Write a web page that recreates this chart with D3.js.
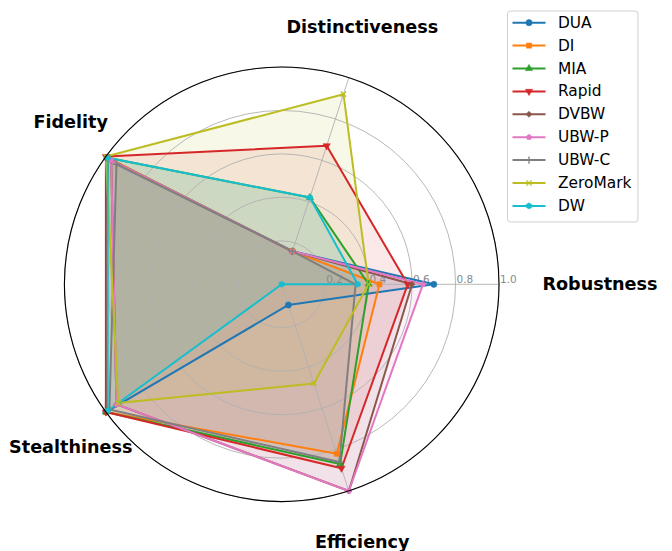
<!DOCTYPE html>
<html>
<head>
<meta charset="utf-8">
<script src="https://cdn.jsdelivr.net/npm/d3@7"></script>
<style>
  body { margin: 0; background: #fff; }
  svg { display: block; font-family: "DejaVu Sans", sans-serif; }
</style>
</head>
<body>
<div id="chart"></div>
<script>
// radar of watermark methods

const categories = ["Robustness", "Distinctiveness", "Fidelity", "Stealthiness", "Efficiency"];
const methods = ["DUA", "DI", "MIA", "Rapid", "DVBW", "UBW-P", "UBW-C", "ZeroMark", "DW"];

const robustness      = [0.70, 0.45, 0.40, 0.58, 0.60, 0.65, 0.34, 0.40, 0.35];
const distinctiveness = [0.16, 0.16, 0.42, 0.67, 0.16, 0.16, 0.16, 0.92, 0.42];
const fidelity        = [0.99, 0.99, 0.99, 1.00, 0.97, 0.97, 0.94, 1.00, 0.99];
const stealthiness    = [1.00, 1.00, 1.00, 1.00, 0.94, 0.94, 0.98, 0.93, 0.99];
const efficiency      = [0.10, 0.82, 0.87, 0.89, 1.00, 1.00, 0.86, 0.48, 0.00];

const rTicks = [0.2, 0.4, 0.6, 0.8, 1.0];
const rTickLabels = ["0.2", "0.4", "0.6", "0.8", "1.0"];

const colors = ["#1f77b4", "#ff7f0e", "#2ca02c", "#d62728", "#8c564b",
                "#e377c2", "#7f7f7f", "#bcbd22", "#17becf"];
const markers = ["o", "s", "^", "v", "D", "p", "+", "x", "h"];

const width = 672, height = 551;
const cx = 281.7, cy = 284.3, R = 217.3;

const svg = d3.select("#chart")
  .append("svg")
    .attr("width", width)
    .attr("height", height);

const g = svg.append("g").attr("transform", `translate(${cx},${cy})`);

const r = d3.scaleLinear().domain([0, 1]).range([0, R]);
// matplotlib style angle: counter-clockwise from east
const theta = d3.scaleLinear().domain([0, categories.length]).range([0, 2 * Math.PI]);
const toXY = (i, v) => [r(v) * Math.cos(theta(i)), -r(v) * Math.sin(theta(i))];

let series = methods.map((m, k) => ({
  name: m,
  color: colors[k],
  marker: markers[k],
  values: [robustness[k], distinctiveness[k], fidelity[k], stealthiness[k], efficiency[k]]
}));

const radial = d3.lineRadial()
  .angle((d, i) => Math.PI / 2 - theta(i))
  .radius(d => r(d))
  .curve(d3.curveLinearClosed);

// polygon symbols for the markers d3 lacks
function polygonSymbol(n) {
  return {
    draw(ctx, size) {
      let rr = Math.sqrt(size / (0.5 * n * Math.sin(2 * Math.PI / n)));
      for (let k = 0; k < n; k++) {
        let a = -Math.PI / 2 + k * 2 * Math.PI / n;
        if (k == 0) ctx.moveTo(rr * Math.cos(a), rr * Math.sin(a));
        else ctx.lineTo(rr * Math.cos(a), rr * Math.sin(a));
      }
      ctx.closePath();
    }
  };
}
const symbolInfo = {
  "o": {type: d3.symbolCircle, size: 30, rot: 0, stroke: false},
  "s": {type: d3.symbolSquare, size: 26, rot: 0, stroke: false},
  "^": {type: d3.symbolTriangle, size: 22, rot: 0, stroke: false},
  "v": {type: d3.symbolTriangle, size: 22, rot: 180, stroke: false},
  "D": {type: d3.symbolSquare, size: 18, rot: 45, stroke: false},
  "p": {type: polygonSymbol(5), size: 20, rot: 0, stroke: false},
  "+": {type: d3.symbolPlus, size: 20, rot: 0, stroke: true},
  "x": {type: d3.symbolX, size: 20, rot: 0, stroke: true},
  "h": {type: polygonSymbol(6), size: 24, rot: 0, stroke: false}
};
function drawMarker(sel, m, color) {
  let info = symbolInfo[m];
  sel.append("path")
    .attr("d", d3.symbol(info.type, info.size)())
    .attr("transform", `rotate(${info.rot})`)
    .attr("fill", info.stroke ? "none" : color)
    .attr("stroke", color)
    .attr("stroke-width", info.stroke ? 1.3 : 0.6);
}

// fills first (under the grid, like matplotlib)
g.selectAll("path.area")
  .data(series).enter().append("path")
    .attr("class", "area")
    .attr("d", d => radial(d.values))
    .attr("fill", d => d.color)
    .attr("fill-opacity", 0.1);

// grid
g.selectAll("circle.ring")
  .data(rTicks).enter().append("circle")
    .attr("class", "ring")
    .attr("r", d => r(d))
    .attr("fill", "none")
    .attr("stroke", "#b0b0b0")
    .attr("stroke-width", 0.9);

g.selectAll("line.spoke")
  .data(categories).enter().append("line")
    .attr("class", "spoke")
    .attr("x1", 0).attr("y1", 0)
    .attr("x2", (d, i) => toXY(i, 1)[0])
    .attr("y2", (d, i) => toXY(i, 1)[1])
    .attr("stroke", "#b0b0b0")
    .attr("stroke-width", 0.9);

// radial tick labels
g.selectAll("text.rtick")
  .data(rTicks).enter().append("text")
    .attr("class", "rtick")
    .attr("x", d => r(d) + 1)
    .attr("y", -1.5)
    .attr("font-size", 10.5)
    .attr("fill", "#8a8a8a")
    .text((d, i) => rTickLabels[i]);

// series outlines
g.selectAll("path.outline")
  .data(series).enter().append("path")
    .attr("class", "outline")
    .attr("d", d => radial(d.values))
    .attr("fill", "none")
    .attr("stroke", d => d.color)
    .attr("stroke-width", 2)
    .attr("stroke-linejoin", "round");

// markers
series.forEach(s => {
  s.values.forEach((v, i) => {
    let p = toXY(i, v);
    let mg = g.append("g").attr("transform", `translate(${p[0]},${p[1]})`);
    drawMarker(mg, s.marker, s.color);
  });
});

// outer spine
g.append("circle")
  .attr("r", r(1))
  .attr("fill", "none")
  .attr("stroke", "#000")
  .attr("stroke-width", 1.1);

// category labels at r = 1.2, aligned outward
g.selectAll("text.cat")
  .data(categories).enter().append("text")
    .attr("class", "cat")
    .attr("x", (d, i) => toXY(i, 1.2)[0])
    .attr("y", (d, i) => {
      let s = Math.sin(theta(i));
      let off = s > 0.1 ? -9.5 : (s < -0.1 ? 9.5 : 0);
      return toXY(i, 1.2)[1] + off;
    })
    .attr("text-anchor", (d, i) => {
      let c = Math.cos(theta(i));
      return c > 0.95 ? "start" : (c < -0.95 ? "end" : "middle");
    })
    .attr("dominant-baseline", "central")
    .attr("font-size", 17.6)
    .attr("font-weight", "bold")
    .text(d => d);

// legend
const lg = svg.append("g").attr("transform", "translate(507.5,11)");
lg.append("rect")
  .attr("width", 130.5)
  .attr("height", 211)
  .attr("rx", 3)
  .attr("fill", "#fff")
  .attr("fill-opacity", 0.8)
  .attr("stroke", "#d0d0d0")
  .attr("stroke-width", 1);

const rowH = 22.9;
series.forEach((s, k) => {
  let y = 11.7 + k * rowH;
  lg.append("line")
    .attr("x1", 5).attr("x2", 38)
    .attr("y1", y).attr("y2", y)
    .attr("stroke", s.color)
    .attr("stroke-width", 2);
  let mg = lg.append("g").attr("transform", `translate(21.5,${y})`);
  drawMarker(mg, s.marker, s.color);
  lg.append("text")
    .attr("x", 50.5)
    .attr("y", y)
    .attr("dominant-baseline", "central")
    .attr("font-size", 15.4)
    .text(s.name);
});
</script>
</body>
</html>
